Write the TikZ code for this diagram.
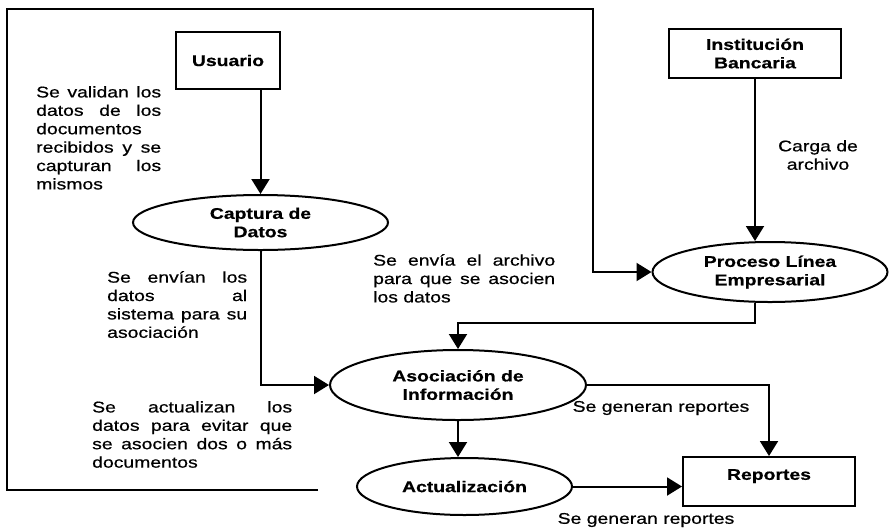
\documentclass[tikz,border=0pt]{standalone}
\usepackage{fontspec}
\setmainfont{Liberation Sans}[FakeStretch=1.25, UprightFeatures={FakeBold=0.6}, BoldFeatures={FakeBold=0.6}]
\usetikzlibrary{shapes.geometric,arrows.meta}

\newcommand{\letra}{\fontsize{15.5pt}{18.4pt}\selectfont}
\hyphenpenalty=10000
\exhyphenpenalty=10000

\tikzset{
    entidad/.style={draw, line width=2pt, font=\letra\bfseries, align=center, inner sep=0pt},
    proceso/.style={ellipse, draw, line width=2pt, font=\letra\bfseries, align=center, inner sep=0pt},
    nota/.style={anchor=north west, inner sep=0pt, align=justify, font=\letra},
    rotulo/.style={inner sep=0pt, align=center, font=\letra},
    flujo/.style={line width=2pt, -{Triangle[length=15pt,width=18pt]}}
}

\begin{document}
\begin{tikzpicture}[x=1pt, y=-1pt]
        \useasboundingbox (0,0) rectangle (891,528);
        \begin{scope}
            \node[entidad, minimum width=104pt, minimum height=57pt] (usuario) at (228, 60.5) {Usuario};
            \node[entidad, minimum width=172pt, minimum height=49pt] (banco) at (755, 53.5) {Institución\\Bancaria};
            \node[entidad, minimum width=172pt, minimum height=49pt, text depth=14pt] (reportes) at (769, 481.5) {Reportes};
            \node[proceso, minimum width=255pt, minimum height=55pt] (captura) at (260.5, 222.5) {Captura de\\Datos};
            \node[proceso, minimum width=235pt, minimum height=60pt] (linea) at (770, 272) {Proceso Línea\\Empresarial};
            \node[proceso, minimum width=256pt, minimum height=70pt] (asociacion) at (458, 385) {Asociación de\\Información};
            \node[proceso, minimum width=215pt, minimum height=57pt] (actualizacion) at (464.5, 486.5) {Actualización};
        \end{scope}
        \begin{scope}
            \node[nota, text width=125pt] (validan) at (36, 86) {Se validan los\linebreak datos de los\linebreak documentos\linebreak recibidos y se\linebreak capturan los\linebreak mismos};
            \node[nota, text width=140pt] (envian) at (107, 271) {Se envían los\linebreak datos al\linebreak sistema para su\linebreak asociación};
            \node[nota, text width=182pt] (envia) at (373, 254) {Se envía el archivo\linebreak para que se asocien\linebreak los datos};
            \node[nota, text width=200pt] (actualizan) at (92, 401) {Se actualizan los\linebreak datos para evitar que\linebreak se asocien dos o más\linebreak documentos};
            \node[rotulo] (carga) at (818, 155) {Carga de\\archivo};
            \node[rotulo] (generan1) at (661, 408) {Se generan reportes};
            \node[rotulo] (generan2) at (646, 520) {Se generan reportes};
        \end{scope}
        \coordinate (lazo) at (318, 490);
        \coordinate (abajo) at (7, 490);
        \coordinate (arriba) at (7, 9);
        \coordinate (vuelta) at (593, 9);
        \begin{scope}
            \draw [flujo] (captura.north |- usuario.south) -- (captura.north);
            \draw [flujo] (banco.south) -- (banco.south |- linea.north);
            \draw [flujo] (captura.south) |- (asociacion.west);
            \draw [flujo] (banco.south |- linea.south) -- ++(0, 20) -| (asociacion.north);
            \draw [flujo] (lazo) -- (abajo) -- (arriba) -- (vuelta) |- (linea.west);
            \draw [flujo] (asociacion.east) -| (reportes.north);
            \draw [flujo] (asociacion.south) -- (asociacion.south |- actualizacion.north);
            \draw [flujo] (actualizacion.east) -- (actualizacion.east -| reportes.west);
        \end{scope}
    \end{tikzpicture}
\end{document}
